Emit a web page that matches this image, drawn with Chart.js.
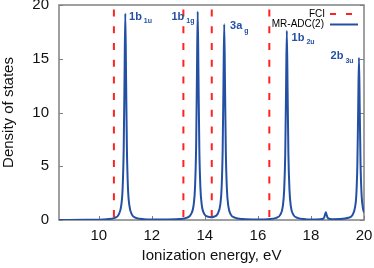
<!DOCTYPE html>
<html>
<head>
<meta charset="utf-8">
<script src="https://cdn.jsdelivr.net/npm/chart.js@4.4.1/dist/chart.umd.min.js"></script>
<style>
  html, body { margin: 0; padding: 0; background: #fff; }
  #wrap { width: 374px; height: 268px; }
</style>
</head>
<body>
<div id="wrap"><canvas id="dosChart"></canvas></div>
<script>
// MR-ADC(2) density of states
const energy = [8.5, 9.5, 10.0, 10.3, 10.6, 10.75, 10.85, 10.9, 10.94, 10.97, 11.0, 11.03, 11.06, 11.1, 11.15, 11.25, 11.4, 11.7,
  12.4, 13.03, 13.33, 13.48, 13.58, 13.63, 13.67, 13.70, 13.73, 13.76, 13.79, 13.83, 13.88, 13.98, 14.13,
  14.23, 14.33, 14.48, 14.58, 14.63, 14.67, 14.70, 14.73, 14.76, 14.79, 14.83, 14.88, 14.98, 15.13, 15.43,
  16.0, 16.39, 16.69, 16.84, 16.94, 16.99, 17.03, 17.06, 17.09, 17.12, 17.15, 17.19, 17.24, 17.34, 17.49, 17.79,
  18.2, 18.46, 18.50, 18.53, 18.56, 18.59, 18.62, 18.66, 18.8,
  19.11, 19.41, 19.56, 19.66, 19.71, 19.75, 19.78, 19.81, 19.84, 19.87, 19.91, 19.96, 20.0];
const dos = [0.0, 0.02, 0.03, 0.07, 0.2, 0.5, 1.4, 3.0, 6.7, 13.0, 19.2, 13.0, 6.7, 3.0, 1.4, 0.5, 0.2, 0.08,
  0.05, 0.09, 0.22, 0.54, 1.45, 3.1, 6.8, 13.2, 19.4, 13.2, 6.8, 3.1, 1.45, 0.55, 0.3,
  0.26, 0.3, 0.56, 1.4, 2.9, 6.4, 12.4, 18.2, 12.4, 6.4, 2.9, 1.36, 0.5, 0.22, 0.09,
  0.05, 0.08, 0.2, 0.48, 1.3, 2.8, 6.1, 11.9, 17.6, 11.9, 6.1, 2.8, 1.3, 0.48, 0.2, 0.08,
  0.05, 0.12, 0.25, 0.48, 0.72, 0.48, 0.26, 0.14, 0.08,
  0.09, 0.21, 0.45, 1.15, 2.3, 5.2, 10.2, 15.1, 10.2, 5.2, 2.3, 1.1, 0.7];

// FCI ionization energies (vertical dashed lines)
const fciEnergies = [10.57, 13.19, 14.26, 16.43];

// peak labels: main text, subscript, anchor (energy, DOS) of the text
const peakMain = ['1b', '1b', '3a', '1b', '2b'];
const peakSub = ['1u', '1g', 'g', '2u', '3u'];
const peakLabelX = [11.14, 12.74, 14.95, 17.27, 18.74];
const peakLabelY = [18.65, 18.65, 17.74, 16.68, 14.95];

const xTicks = [10, 12, 14, 16, 18, 20];
const yTicks = [0, 5, 10, 15, 20];

const blue = '#2450a4';
const red = '#ff2222';
const font = "'Liberation Sans', Arial, sans-serif";

const fciData = [];
fciEnergies.forEach(e => {
  fciData.push({ x: e, y: 0 }, { x: e, y: 20 }, { x: e, y: null });
});

const decor = {
  id: 'decor',
  beforeDatasetsDraw(chart) {
    const { ctx, chartArea: a, scales: { x, y } } = chart;
    ctx.save();
    ctx.strokeStyle = '#808080';
    ctx.lineWidth = 1.5;
    ctx.strokeRect(a.left, a.top, a.right - a.left, a.bottom - a.top);
    ctx.lineWidth = 1;
    ctx.beginPath();
    yTicks.forEach(v => {
      const py = Math.round(y.getPixelForValue(v)) + 0.5;
      ctx.moveTo(a.left, py); ctx.lineTo(a.left + 4, py);
      ctx.moveTo(a.right, py); ctx.lineTo(a.right - 4, py);
    });
    xTicks.forEach(v => {
      const px = Math.round(x.getPixelForValue(v)) + 0.5;
      ctx.moveTo(px, a.bottom); ctx.lineTo(px, a.bottom - 4);
    });
    ctx.stroke();
    ctx.restore();
  },
  afterDatasetsDraw(chart) {
    const { ctx, scales: { x, y } } = chart;
    ctx.save();
    // peak labels
    ctx.fillStyle = blue;
    ctx.textBaseline = 'alphabetic';
    ctx.textAlign = 'left';
    peakMain.forEach((t, i) => {
      const px = x.getPixelForValue(peakLabelX[i]);
      const py = y.getPixelForValue(peakLabelY[i]);
      ctx.font = 'bold 11px ' + font;
      ctx.fillText(t, px, py);
      const w = ctx.measureText(t).width;
      ctx.font = 'bold 7px ' + font;
      ctx.fillText(peakSub[i], px + w + 2, py + 3.5);
    });
    // legend, top right
    const ds = chart.data.datasets;
    ctx.font = '10px ' + font;
    ctx.fillStyle = '#000';
    ctx.textAlign = 'right';
    ctx.textBaseline = 'middle';
    ctx.fillText(ds[1].label, 325, 14);
    ctx.fillText(ds[0].label, 324, 24.5);
    ctx.lineWidth = 2;
    ctx.strokeStyle = red;
    ctx.setLineDash([6, 10]);
    ctx.beginPath(); ctx.moveTo(330, 14); ctx.lineTo(353, 14); ctx.stroke();
    ctx.setLineDash([]);
    ctx.strokeStyle = blue;
    ctx.beginPath(); ctx.moveTo(330, 24.5); ctx.lineTo(358, 24.5); ctx.stroke();
    ctx.restore();
  }
};

new Chart(document.getElementById('dosChart'), {
  type: 'line',
  data: {
    datasets: [
      {
        label: 'MR-ADC(2)',
        data: energy.map((e, i) => ({ x: e, y: dos[i] })),
        borderColor: blue,
        borderWidth: 2,
        pointRadius: 0,
        cubicInterpolationMode: 'monotone',
        fill: false
      },
      {
        label: 'FCI',
        data: fciData,
        borderColor: red,
        borderWidth: 2,
        borderDash: [7, 9.7],
        borderDashOffset: 13.7,
        pointRadius: 0,
        spanGaps: false,
        fill: false
      }
    ]
  },
  options: {
    responsive: true,
    maintainAspectRatio: false,
    animation: false,
    layout: { padding: { left: 0, top: 5, right: 10, bottom: 0 } },
    plugins: { legend: { display: false }, tooltip: { enabled: false } },
    scales: {
      x: {
        type: 'linear',
        min: 8.5,
        max: 20,
        grid: { display: false, drawTicks: false },
        border: { display: false },
        afterBuildTicks: s => { s.ticks = xTicks.map(v => ({ value: v })); },
        afterFit: s => { s.height = 48; s.paddingLeft = 0; s.paddingRight = 0; },
        ticks: { autoSkip: false, maxRotation: 0, padding: 7, color: '#111', font: { family: font, size: 15 } },
        title: {
          display: true,
          text: 'Ionization energy, eV',
          color: '#111',
          font: { family: font, size: 15 },
          padding: { top: 0, bottom: 3 }
        }
      },
      y: {
        min: 0,
        max: 20,
        grid: { display: false, drawTicks: false },
        border: { display: false },
        afterBuildTicks: s => { s.ticks = yTicks.map(v => ({ value: v })); },
        afterFit: s => { s.width = 59; s.paddingTop = 0; s.paddingBottom = 0; },
        ticks: { padding: 10, color: '#111', font: { family: font, size: 15 } },
        title: {
          display: true,
          text: 'Density of states',
          color: '#111',
          font: { family: font, size: 15 },
          padding: { top: 0, bottom: 0 }
        }
      }
    }
  },
  plugins: [decor]
});
</script>
</body>
</html>
